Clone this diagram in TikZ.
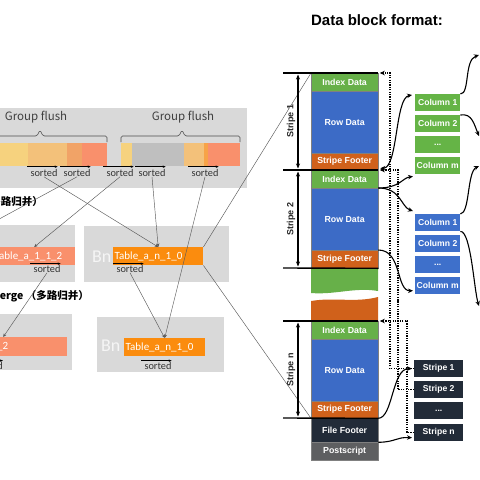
\documentclass[tikz,border=0pt]{standalone}
\usepackage{fontspec}
\setmainfont{Liberation Sans}
\newfontfamily\cjk{Noto Sans CJK SC}
\newfontfamily\calib{Carlito}
\usetikzlibrary{arrows.meta}

\definecolor{panelgray}{HTML}{D9D9D9}
\definecolor{runyellow}{HTML}{F6D27E}
\definecolor{runtan}{HTML}{F3C17A}
\definecolor{runorange}{HTML}{F1A367}
\definecolor{coral}{HTML}{F9906C}
\definecolor{rungray}{HTML}{BFBFBF}
\definecolor{runamber}{HTML}{F7A348}
\definecolor{vivid}{HTML}{FB8C0E}
\definecolor{idxgreen}{HTML}{67B049}
\definecolor{rowblue}{HTML}{3C6BC6}
\definecolor{ftrorange}{HTML}{D0611B}
\definecolor{navy}{HTML}{222B38}
\definecolor{psgray}{HTML}{5E5F61}
\definecolor{colgreen}{HTML}{65B446}
\definecolor{colblue}{HTML}{3E70CB}

\begin{document}
\begin{tikzpicture}[x=1pt,y=-1pt,
    panel/.style={fill=panelgray},
    tag/.style={inner sep=0pt,font=\calib\fontsize{10.3}{12}\selectfont,text=black!80},
    srt/.style={-{Stealth[length=3pt,width=2.4pt]},line width=0.6pt},
    bar/.style={anchor=north west,inner ysep=0pt,inner xsep=1.5pt,minimum height=18pt,
      text=white,align=left,font=\calib\fontsize{11}{12}\selectfont},
    link/.style={draw=black!65,line width=0.45pt},
    feed/.style={link,-{Stealth[length=3.5pt,width=3pt]}},
    merge/.style={inner sep=0pt,font=\cjk\bfseries\fontsize{10.5}{12}\selectfont},
    blk/.style={anchor=north west,inner sep=0pt,minimum width=67pt,text=white,
      draw=black!50,line width=0.3pt,font=\bfseries\fontsize{8.8}{10}\selectfont},
    cell/.style={anchor=north west,inner sep=0pt,minimum width=45pt,minimum height=17pt,
      text=white,font=\bfseries\fontsize{8.6}{10}\selectfont},
    sepline/.style={line width=1.4pt},
    stripespan/.style={{Stealth[length=5pt,width=4pt]}-{Stealth[length=5pt,width=4pt]},
      line width=1.1pt,shorten <=1.5pt,shorten >=1.5pt},
    swoop/.style={line width=1.1pt,-{Stealth[length=5pt,width=4.5pt]}},
    ptr/.style={line width=1.2pt,dash pattern=on 1.2pt off 1.2pt,
      -{Stealth[length=5pt,width=4.5pt]},shorten >=1.5pt}]
  \useasboundingbox (0,0) rectangle (480,480);
  \begin{scope}
  \clip (0,0) rectangle (480,480);

  % flush panel
  \fill[panel] (-5,108) rectangle (247,188);
  \node (gf1) at (36,117) [font=\cjk\fontsize{11.5}{13}\selectfont,text=black!75] {Group flush};
  \node (gf2) at (183,117) [font=\cjk\fontsize{11.5}{13}\selectfont,text=black!75] {Group flush};
  \draw[black!70,line width=0.6pt,rounded corners=1.5pt]
    (-30,142) -- (-30,136) -- (37,136) -- (40,130) -- (43,136) -- (107,136) -- (107,142);
  \draw[black!70,line width=0.6pt,rounded corners=1.5pt]
    (121,142) -- (121,136) -- (179,136) -- (182,130) -- (185,136) -- (240,136) -- (240,142);
  \fill[runyellow] (-5,143) rectangle (28,166);
  \fill[runtan] (28,143) rectangle (67,166);
  \fill[runorange] (67,143) rectangle (82,166);
  \fill[coral] (82,143) rectangle (107,166);
  \fill[runyellow] (121,143) rectangle (132,166);
  \fill[rungray] (132,143) rectangle (184,166);
  \fill[runtan] (184,143) rectangle (204,166);
  \fill[runamber] (204,143) rectangle (208,166);
  \fill[coral] (208,143) rectangle (240,166);

  \node (s1) at (44,173) [tag] {sorted};
  \node (s2) at (77,173) [tag] {sorted};
  \node (s3) at (120,173) [tag] {sorted};
  \node (s4) at (152,173) [tag] {sorted};
  \node (s5) at (205,173) [tag] {sorted};
  \foreach \s in {s1,s2,s3,s4,s5}
    \draw[srt] ([xshift=-3pt,yshift=2.5pt]\s.north west) -- ([yshift=2.5pt]\s.north east);

  \node (mg1) at (43,202) [merge,anchor=east] {（多路归并）};

  % first merge
  \fill[panel] (-5,225) rectangle (75,282);
  \fill[panel] (84,226) rectangle (229,282);
  \node (bn1) at (92,257) [anchor=west,inner sep=0pt,font=\calib\fontsize{18}{20}\selectfont,text=white!96!black] {Bn};
  \node (tb1) at (-7,247) [bar,fill=coral,text width=79pt] {Table\_a\_1\_1\_2};
  \node (tb2) at (113,247) [bar,fill=vivid,text width=87pt] {Table\_a\_n\_1\_0};
  \node (ms1) at (47,269) [tag] {sorted};
  \node (ms2) at (130,269) [tag] {sorted};

  \node (mg2) at (89,296) [merge,anchor=east] {Merge （多路归并）};

  % second merge
  \fill[panel] (-5,314) rectangle (72,370);
  \fill[panel] (97,317) rectangle (224,372);
  \node (bn2) at (101,346) [anchor=west,inner sep=0pt,font=\calib\fontsize{18}{20}\selectfont,text=white!96!black] {Bn};
  \node (tb3) at (-61,337) [bar,fill=coral,text width=125pt,minimum height=19pt] {Table\_a\_1\_1\_2};
  \node (tb4) at (124,338) [bar,fill=vivid,text width=78pt] {Table\_a\_n\_1\_0};
  \node (ms3) at (3,366) [tag,anchor=east] {sorted};
  \node (ms4) at (158,366) [tag] {sorted};
  \foreach \s in {ms1,ms2,ms3,ms4}
    \draw[srt] ([xshift=-3pt,yshift=1.5pt]\s.north west) -- ([yshift=1.5pt]\s.north east);

  \coordinate (off) at (-10,224);
  \draw[feed] (s1.south) -- (tb2.north);
  \draw[link] (s2.south) -- (off);
  \draw[feed] (s3.south) -- (tb1.north);
  \draw[feed] (s4.south) -- (tb2.north);
  \draw[feed] (s5.south) -- (tb4.north);
  \draw[feed] (ms2.south) -- (tb4.north);
  \draw[feed] (ms1.south) -- (tb3.north);

  % data block
  \node (title) at (377,20) [font=\bfseries\fontsize{15}{17}\selectfont] {Data block format:};

  \node (idx1) at (311,73) [blk,fill=idxgreen,minimum height=18pt] {Index Data};
  \node (row1) at (311,91) [blk,fill=rowblue,minimum height=62pt] {Row Data};
  \node (ftr1) at (311,153) [blk,fill=ftrorange,minimum height=17pt] {Stripe Footer};
  \node (idx2) at (311,170) [blk,fill=idxgreen,minimum height=18pt] {Index Data};
  \node (row2) at (311,188) [blk,fill=rowblue,minimum height=62pt] {Row Data};
  \node (ftr2) at (311,250) [blk,fill=ftrorange,minimum height=18pt] {Stripe Footer};
  \fill[idxgreen] (311,268) -- (378,268) -- (378,291) .. controls (355,287) and (335,295) .. (311,293) -- cycle;
  \fill[ftrorange] (311,301) .. controls (335,297) and (355,303) .. (378,297) -- (378,321) -- (311,321) -- cycle;
  \node (idxn) at (311,321) [blk,fill=idxgreen,minimum height=18pt] {Index Data};
  \node (rown) at (311,339) [blk,fill=rowblue,minimum height=62pt] {Row Data};
  \node (ftrn) at (311,401) [blk,fill=ftrorange,minimum height=17pt] {Stripe Footer};
  \node (ffoot) at (311,418) [blk,fill=navy,minimum height=24pt] {File Footer};
  \node (pscript) at (311,442) [blk,fill=psgray,minimum height=18pt] {Postscript};

  \draw[link] (tb2.north east) -- (idx1.north west);
  \draw[link] (tb2.south east) -- (ftrn.south west);

  \coordinate (h1) at (283,73);
  \coordinate (h2) at (283,170);
  \coordinate (h3) at (283,268);
  \coordinate (h4) at (283,321);
  \coordinate (h5) at (283,418);
  \draw[sepline] (h1) -- (idx1.north east);
  \draw[sepline] (h2) -- (idx2.north east);
  \draw[sepline] (h3) -- (ftr2.south east);
  \draw[sepline] (h4) -- (idxn.north east);
  \draw[sepline] (h5) -- (ftrn.south east);

  \coordinate (v1) at (298,73);
  \coordinate (v2) at (298,170);
  \coordinate (v3) at (298,268);
  \coordinate (v4) at (298,321);
  \coordinate (v5) at (298,418);
  \draw[stripespan] (v1) -- (v2);
  \draw[stripespan] (v2) -- (v3);
  \draw[stripespan] (v4) -- (v5);
  \node (st1) at (291,121) [rotate=90,inner sep=0pt,font=\bfseries\fontsize{9}{10}\selectfont,text=black!85] {Stripe 1};
  \node (st2) at (291,219) [rotate=90,inner sep=0pt,font=\bfseries\fontsize{9}{10}\selectfont,text=black!85] {Stripe 2};
  \node (stn) at (291,370) [rotate=90,inner sep=0pt,font=\bfseries\fontsize{9}{10}\selectfont,text=black!85] {Stripe n};

  % columns and stripes
  \node (gc1) at (415,94) [cell,fill=colgreen] {Column 1};
  \node (gc2) at (415,115) [cell,fill=colgreen] {Column 2};
  \node (gc3) at (415,136) [cell,fill=colgreen] {...};
  \node (gcm) at (415,157) [cell,fill=colgreen] {Column m};
  \node (bc1) at (415,214) [cell,fill=colblue] {Column 1};
  \node (bc2) at (415,235) [cell,fill=colblue] {Column 2};
  \node (bc3) at (415,256) [cell,fill=colblue] {...};
  \node (bcm) at (415,277) [cell,fill=colblue] {Column m};
  \node (sb1) at (414,360) [cell,fill=navy,minimum width=49pt] {Stripe 1};
  \node (sb2) at (414,381) [cell,fill=navy,minimum width=49pt] {Stripe 2};
  \node (sb3) at (414,402) [cell,fill=navy,minimum width=49pt] {...};
  \node (sbn) at (414,424) [cell,fill=navy,minimum width=49pt] {Stripe n};

  \coordinate (k1) at (390,200);
  \coordinate (k2) at (398,300);
  \coordinate (k3) at (407,380);
  \draw[ptr] (sb1.west) -| (k1) |- (idx1.north east);
  \draw[ptr] (sb2.west) -| (k2) |- (idx2.north east);
  \draw[ptr] (sbn.west) -| (k3) |- (idxn.north east);

  \draw[swoop,{Stealth[length=5pt,width=4.5pt]}-{Stealth[length=5pt,width=4.5pt]}]
    ([xshift=2pt,yshift=2pt]ftr1.south east) .. controls (398,168) and (395,98) .. ([xshift=-3pt,yshift=-1pt]gc1.north west);
  \draw[swoop] (row2.north east) .. controls (400,188) and (402,178) .. ([xshift=-2pt,yshift=-2pt]gcm.south west);
  \draw[swoop] (row2.north east) .. controls (401,188) and (401,207) .. ([xshift=-2pt,yshift=3pt]bc1.north west);
  \draw[swoop] (ftr2.north east) .. controls (402,250) and (396,291) .. ([xshift=-2pt,yshift=-5pt]bcm.west);
  \draw[swoop] (ftrn.south east) .. controls (393,418) and (392,368) .. ([xshift=-2pt]sb1.west);
  \draw[swoop] (ffoot.south east) .. controls (396,442) and (396,437) .. ([xshift=-2pt,yshift=-5pt]sbn.west);

  \coordinate (o1) at (479,55);
  \coordinate (o2) at (479,136);
  \coordinate (o3) at (479,166);
  \coordinate (o4) at (479,306);
  \draw[swoop] (gc1.north east) .. controls (470,94) and (464,60) .. (o1);
  \draw[swoop] (gc2.north east) .. controls (472,113) and (474,124) .. (o2);
  \draw[swoop] (bc1.north east) .. controls (470,213) and (467,172) .. (o3);
  \draw[swoop] (bc1.south east) .. controls (471,231) and (474,290) .. (o4);
  \end{scope}
\end{tikzpicture}
\end{document}
